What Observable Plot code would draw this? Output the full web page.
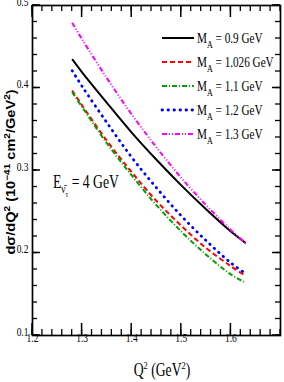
<!DOCTYPE html>
<html><head>
<meta charset="utf-8">
<script src="https://cdn.jsdelivr.net/npm/d3@7"></script>
<script src="https://cdn.jsdelivr.net/npm/@observablehq/plot@0.6"></script>
<style>html,body{margin:0;padding:0;background:#fff} svg{display:block}</style>
</head><body><div id="chart"></div>
<script>
// Q^2 grid (GeV^2)
const q2 = [1.28, 1.30, 1.35, 1.40, 1.45, 1.50, 1.55, 1.60, 1.63];
// dσ/dQ² (10^-41 cm²/GeV²) for each M_A
const ma09  = [0.435, 0.419, 0.382, 0.346, 0.313, 0.282, 0.253, 0.226, 0.212];
const ma1026= [0.397, 0.379, 0.336, 0.298, 0.263, 0.233, 0.206, 0.184, 0.172];
const ma11  = [0.395, 0.377, 0.333, 0.294, 0.258, 0.226, 0.198, 0.174, 0.164];
const ma12  = [0.421, 0.402, 0.358, 0.316, 0.279, 0.245, 0.215, 0.188, 0.175];
const ma13  = [0.479, 0.459, 0.412, 0.368, 0.328, 0.291, 0.258, 0.228, 0.212];
const seriesNames = ["0.9", "1.026", "1.1", "1.2", "1.3"];
const seriesValues = [ma09, ma1026, ma11, ma12, ma13];
const xTicks = [1.2, 1.3, 1.4, 1.5, 1.6];
const yTicks = [0.1, 0.2, 0.3, 0.4, 0.5];
const xMinor = d3.range(1.2, 1.7001, 0.02);
const yMinor = d3.range(0.1, 0.5001, 0.02);

const styles = [
  {stroke: "#000000", dash: null, width: 2, cap: "butt"},
  {stroke: "#ff0000", dash: "5,3", width: 2, cap: "butt"},
  {stroke: "#00a000", dash: "5,2,1,2", width: 2, cap: "butt"},
  {stroke: "#0000ff", dash: "0.5,5.5", width: 2.8, cap: "round"},
  {stroke: "#ff00ff", dash: "5,2,1,2,1,2", width: 2, cap: "butt"}
];

const data = seriesNames.flatMap((s, k) => q2.map((q, i) => ({q, v: seriesValues[k][i], s})));

const lines = seriesNames.map((s, k) => Plot.line(data.filter(d => d.s === s), {
  x: "q", y: "v", curve: "catmull-rom",
  stroke: styles[k].stroke, strokeWidth: styles[k].width,
  strokeDasharray: styles[k].dash, strokeLinecap: styles[k].cap
}));

const W = 284, H = 382, mL = 32, mR = 4, mT = 5, mB = 47;

const plot = Plot.plot({
  width: W, height: H,
  marginLeft: mL, marginRight: mR, marginTop: mT, marginBottom: mB,
  x: {domain: [1.2, 1.7]},
  y: {domain: [0.1, 0.5]},
  style: {fontFamily: "Liberation Serif", fontSize: "12.5px"},
  marks: [
    ...lines,
    Plot.axisX(xTicks, {anchor: "bottom", tickSize: 0, tickPadding: 6, tickFormat: d => d.toFixed(1), label: null}),
    Plot.axisY(yTicks, {anchor: "left", tickSize: 0, tickPadding: 4, tickFormat: d => d.toFixed(1), label: null}),
    Plot.frame({strokeWidth: 1.7})
  ]
});
document.getElementById("chart").appendChild(plot);
const svg = d3.select(plot);

// inward ticks on all four sides, positioned with Plot's own scales
const sx = plot.scale("x"), sy = plot.scale("y");
const fTop = mT, fBottom = H - mB, fLeft = mL, fRight = W - mR;
const tg = svg.append("g").attr("stroke", "#000");
function xtk(values, len, w) {
  values.forEach(v => {
    const x = sx.apply(v);
    tg.append("line").attr("x1", x).attr("x2", x).attr("y1", fBottom).attr("y2", fBottom - len).attr("stroke-width", w);
    tg.append("line").attr("x1", x).attr("x2", x).attr("y1", fTop).attr("y2", fTop + len).attr("stroke-width", w);
  });
}
function ytk(values, len, w) {
  values.forEach(v => {
    const y = sy.apply(v);
    tg.append("line").attr("y1", y).attr("y2", y).attr("x1", fLeft).attr("x2", fLeft + len).attr("stroke-width", w);
    tg.append("line").attr("y1", y).attr("y2", y).attr("x1", fRight).attr("x2", fRight - len).attr("stroke-width", w);
  });
}
xtk(xMinor, 6, 1.3); xtk(xTicks, 12, 1.5);
ytk(yMinor, 5, 1.3); ytk(yTicks, 8, 1.5);

const SX = 0.76;
function squeeze(el, s) {
  const t = el.getAttribute("transform") || "";
  const x = +el.getAttribute("x") || 0, y = +el.getAttribute("y") || 0;
  el.removeAttribute("x"); el.removeAttribute("y");
  el.setAttribute("transform", `${t} translate(${x},${y}) scale(${s},1)`);
}
svg.selectAll("g[aria-label='x-axis tick label'] text, g[aria-label='y-axis tick label'] text").each(function() { squeeze(this, SX); });

// Legend
const legendX0 = 162, legendLen = 32, legendY0 = 38, legendStep = 24;
seriesNames.forEach((s, k) => {
  const y = legendY0 + k * legendStep;
  svg.append("line").attr("x1", legendX0).attr("x2", legendX0 + legendLen).attr("y1", y).attr("y2", y)
    .attr("stroke", styles[k].stroke).attr("stroke-width", styles[k].width)
    .attr("stroke-dasharray", styles[k].dash).attr("stroke-linecap", styles[k].cap);
  const t = svg.append("text").attr("font-family", "Liberation Serif").attr("font-size", 14)
    .attr("text-anchor", "start")
    .attr("transform", `translate(${legendX0 + legendLen + 3},${y + 4.5}) scale(0.8,1)`);
  t.append("tspan").text("M");
  t.append("tspan").attr("font-size", 10).attr("dy", 5).text("A");
  t.append("tspan").attr("dy", -5).text(` = ${s} GeV`);
});

// Energy annotation
const e = svg.append("text").attr("font-family", "Liberation Serif").attr("font-size", 18)
  .attr("text-anchor", "start")
  .attr("transform", `translate(53,188) scale(${SX},1)`);
e.append("tspan").text("E");
e.append("tspan").attr("font-size", 12).attr("dy", 5).text("ν\u0304");
e.append("tspan").attr("font-size", 9).attr("dy", 4).text("τ");
e.append("tspan").attr("dy", -9).text(" = 4 GeV");

// Axis titles
const xtt = svg.append("text").attr("font-family", "Liberation Serif").attr("font-size", 18)
  .attr("text-anchor", "middle").attr("transform", `translate(162,376) scale(${SX},1)`);
xtt.append("tspan").text("Q");
xtt.append("tspan").attr("font-size", 11).attr("dy", -7).text("2");
xtt.append("tspan").attr("dy", 7).text(" (GeV");
xtt.append("tspan").attr("font-size", 11).attr("dy", -7).text("2");
xtt.append("tspan").attr("dy", 7).text(")");

const yt = svg.append("text").attr("font-family", "Liberation Sans").attr("font-weight", "bold").attr("font-size", 13)
  .attr("text-anchor", "middle")
  .attr("transform", `translate(15,172) rotate(-90) scale(1.12,1)`);
yt.append("tspan").text("dσ/dQ");
yt.append("tspan").attr("font-size", 9).attr("dy", -5).text("2");
yt.append("tspan").attr("dy", 5).text(" (10");
yt.append("tspan").attr("font-size", 9).attr("dy", -5).text("−41");
yt.append("tspan").attr("dy", 5).text(" cm");
yt.append("tspan").attr("font-size", 9).attr("dy", -5).text("2");
yt.append("tspan").attr("dy", 5).text("/GeV");
yt.append("tspan").attr("font-size", 9).attr("dy", -5).text("2");
yt.append("tspan").attr("dy", 5).text(")");
</script>
</body></html>
